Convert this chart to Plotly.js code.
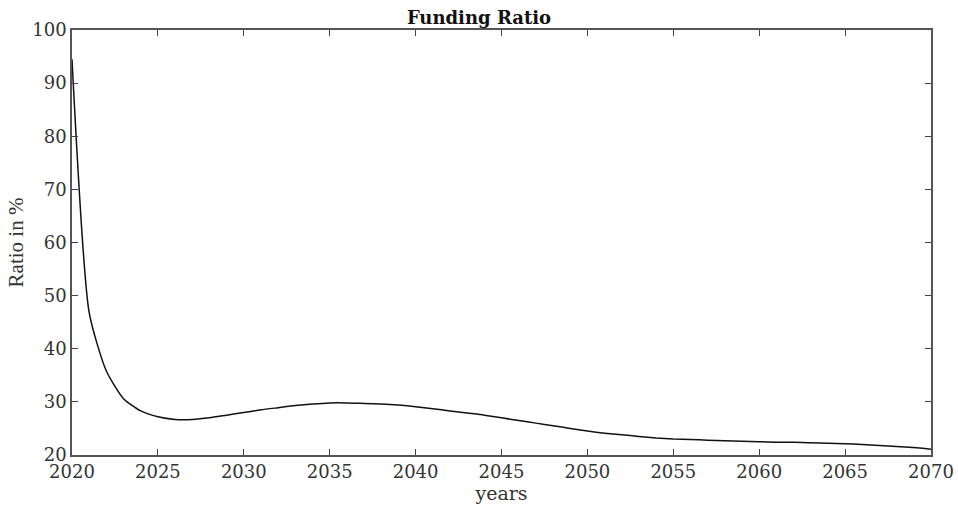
<!DOCTYPE html>
<html>
<head>
<meta charset="utf-8">
<script src="https://cdn.plot.ly/plotly-3.0.1.min.js"></script>
<style>html,body{margin:0;padding:0;background:#fff;}#chart{width:958px;height:507px;}</style>
</head>
<body>
<div id="chart"></div>
<script>
const years = [2020,2021,2022,2023,2024,2025,2026,2027,2028,2029,2030,2031,2032,2033,2034,2035,2036,2037,2038,2039,2040,2041,2042,2043,2044,2045,2046,2047,2048,2049,2050,2051,2052,2053,2054,2055,2056,2057,2058,2059,2060,2061,2062,2063,2064,2065,2066,2067,2068,2069,2070];
const ratio = [94.5,46.8,35.8,30.6,28.3,27.2,26.7,26.7,27.0,27.5,28.0,28.5,28.9,29.3,29.6,29.8,29.8,29.7,29.6,29.4,29.1,28.7,28.3,27.9,27.5,27.0,26.5,26.0,25.5,25.0,24.5,24.1,23.8,23.5,23.2,23.0,22.9,22.8,22.7,22.6,22.5,22.4,22.4,22.3,22.2,22.1,22.0,21.8,21.6,21.4,21.1];
const xTicks = [2020,2025,2030,2035,2040,2045,2050,2055,2060,2065,2070];
const yTicks = [20,30,40,50,60,70,80,90,100];

const serif = 'DejaVu Serif, serif';
const times = 'Liberation Serif, Times New Roman, serif';
Plotly.newPlot('chart', [{
  x: years, y: ratio, type: 'scatter', mode: 'lines',
  line: {color: '#111', width: 1.5, shape: 'spline', smoothing: 0.6}
}], {
  width: 958, height: 507,
  margin: {l: 72, r: 27, t: 30, b: 52},
  paper_bgcolor: '#fff', plot_bgcolor: '#fff',
  showlegend: false,
  title: {text: '<b>Funding Ratio</b>', font: {family: serif, size: 18, color: '#111'}, x: 0.5, xanchor: 'center', yref: 'container', y: 0.965, yanchor: 'middle'},
  xaxis: {
    range: [2020, 2070], tickvals: xTicks, ticktext: xTicks.map(String),
    ticks: 'inside', ticklen: 6, tickcolor: '#444', showline: true, linecolor: '#555', linewidth: 1.5,
    mirror: 'ticks', showgrid: false, zeroline: false,
    tickfont: {family: serif, size: 18, color: '#333'},
    title: {text: 'years', font: {family: serif, size: 19, color: '#333'}, standoff: 0}
  },
  yaxis: {
    range: [20, 100], tickvals: yTicks, ticktext: yTicks.map(String),
    ticks: 'inside', ticklen: 6, tickcolor: '#444', showline: true, linecolor: '#555', linewidth: 1.5,
    mirror: 'ticks', showgrid: false, zeroline: false,
    tickfont: {family: serif, size: 18, color: '#333'},
    title: {text: 'Ratio in %', font: {family: times, size: 21, color: '#333'}, standoff: 3}
  }
}, {displayModeBar: false});
</script>
</body>
</html>
